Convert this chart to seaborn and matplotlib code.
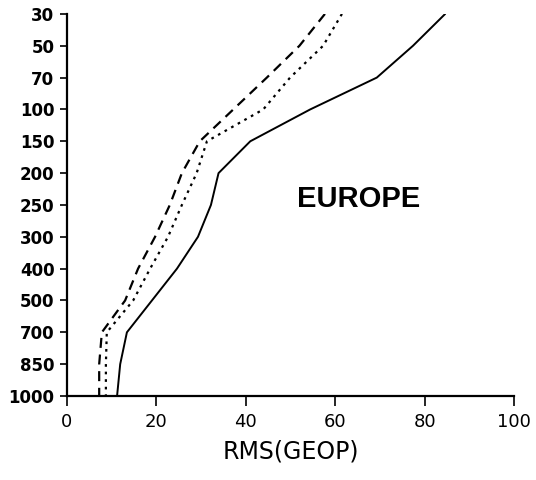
import numpy as np
import matplotlib
matplotlib.use('Agg')
import matplotlib.pyplot as plt
import seaborn as sns

# pressure levels (hPa), top to bottom
levels = ['30', '50', '70', '100', '150', '200', '250', '300', '400', '500', '700', '850', '1000']
rms_solid = [84.6, 77.4, 69.3, 54.4, 41.0, 33.9, 32.2, 29.3, 24.6, 19.0, 13.4, 11.9, 11.2]
rms_dotted = [61.5, 57.3, 49.9, 43.9, 31.3, 29.0, 25.7, 22.6, 18.6, 14.8, 8.9, 8.7, 8.7]
rms_dashed = [57.7, 52.0, 44.7, 37.2, 29.7, 25.7, 23.0, 19.7, 15.9, 13.0, 7.8, 7.2, 7.2]

sns.set_style('white')
plt.rcParams['font.family'] = ['DejaVu Sans']
plt.rcParams['text.color'] = 'black'
plt.rcParams['axes.labelcolor'] = 'black'
plt.rcParams['xtick.color'] = 'black'
plt.rcParams['ytick.color'] = 'black'

pos = np.arange(len(levels))

fig = plt.figure(figsize=(5.36, 4.8), dpi=100)
ax = fig.add_axes([0.125, 0.175, 0.834, 0.796])

sns.lineplot(x=rms_solid, y=pos, orient='y', sort=False, color='black', lw=1.4, ax=ax)
sns.lineplot(x=rms_dotted, y=pos, orient='y', sort=False, color='black', lw=1.6,
             ax=ax).lines[-1].set_linestyle((0, (1.2, 2.2)))
sns.lineplot(x=rms_dashed, y=pos, orient='y', sort=False, color='black', lw=1.6,
             ax=ax).lines[-1].set_linestyle((0, (4.5, 3)))

ax.set_xlim(0, 100)
ax.set_ylim(len(levels) - 1, 0)
ax.set_yticks(pos)
ax.set_yticklabels(levels, fontsize=12, fontweight='bold')
ax.set_xticks(range(0, 101, 20))
ax.tick_params(axis='x', labelsize=13, length=7, width=1.2, direction='out', bottom=True, pad=5)
ax.tick_params(axis='y', length=5, width=1.2, direction='out', left=True, pad=4)
ax.set_xlabel('RMS(GEOP)', fontsize=17, labelpad=6)

sns.despine(ax=ax)
for s in ['left', 'bottom']:
    ax.spines[s].set_color('black')
    ax.spines[s].set_linewidth(1.6)

ax.text(65.3, 5.8, 'EUROPE', fontsize=21, fontweight='bold', family='Liberation Sans',
        ha='center', va='center', color='black')

fig.savefig('out.png', dpi=100)
